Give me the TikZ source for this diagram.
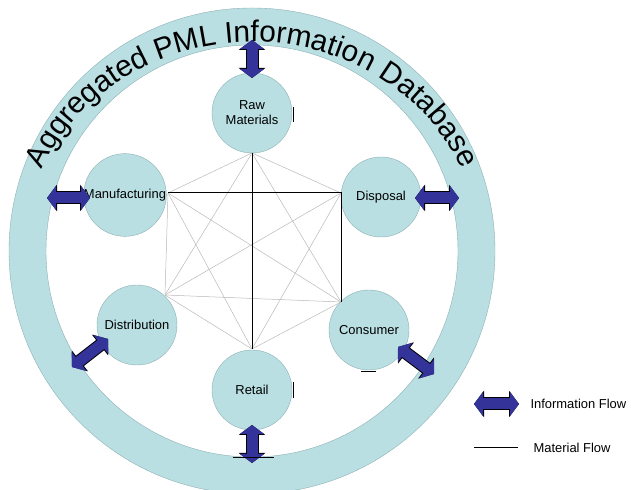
\documentclass[tikz,border=0pt]{standalone}
\usepackage{fontspec}
\setmainfont{Liberation Sans}
\usetikzlibrary{arrows.meta}
\usetikzlibrary{decorations.text}
\definecolor{ringteal}{HTML}{B9DFE3}
\definecolor{ringedge}{HTML}{8DB1B5}
\definecolor{flowblue}{HTML}{333399}

\begin{document}
\begin{tikzpicture}[x=1bp,y=1bp,
  stage/.style={circle, fill=ringteal, draw=ringedge, line width=0.4bp, minimum size=80bp, inner sep=0pt, align=center, font=\fontsize{13}{15}\selectfont},
  infoflow/.style={line width=11bp, draw=flowblue, {Triangle[length=9bp,width=24bp]}-{Triangle[length=9bp,width=24bp]},
    preaction={draw=black, line width=13bp, {Triangle[length=10bp,width=26bp]}-{Triangle[length=10bp,width=26bp]}}},
  matflow/.style={line width=1bp, black},
  linkflow/.style={line width=0.5bp, gray!55}]

\useasboundingbox (0,0) rectangle (631,490);

\fill[ringteal, even odd rule] (252,239) circle[radius=243] (252,239) circle[radius=206];
\draw[ringedge, line width=0.4bp] (252,239) circle[radius=243] (252,239) circle[radius=206];

\path[decorate, decoration={text along path, text align=center,
  text={|\fontsize{30}{30}\selectfont|Aggregated PML Information Database}}]
  (252,239) ++(162:228 and 209) arc[start angle=162, end angle=18, x radius=228, y radius=209];

\coordinate (rawP) at (252,337);
\coordinate (manuP) at (168,297);
\coordinate (dispP) at (341,297);
\coordinate (distP) at (165,195);
\coordinate (consP) at (341,188);
\coordinate (retailP) at (252,141);

\node[stage] (raw) at (252,377) {Raw\\Materials};
\node[stage] (manu) at (125,295) {Manufacturing};
\node[stage] (disp) at (381,293) {Disposal};
\node[stage] (dist) at (137,165) {Distribution};
\node[stage] (cons) at (369,160) {Consumer};
\node[stage] (retail) at (252,100) {Retail};

\foreach \a/\b in {rawP/manuP,rawP/dispP,rawP/distP,rawP/consP,manuP/distP,manuP/retailP,
  manuP/consP,dispP/distP,dispP/retailP,distP/consP,distP/retailP,consP/retailP}{
	\draw[linkflow] (\a)--(\b);
}
\draw[matflow] (rawP)--(retailP);
\draw[matflow] (manuP)--(dispP)--(consP);

\coordinate (rawR) at (252,450);
\coordinate (rawS) at (252,412);
\coordinate (manuR) at (47,292);
\coordinate (manuS) at (90,292);
\coordinate (dispR) at (459,292);
\coordinate (dispS) at (415,292);
\coordinate (distR) at (72,123);
\coordinate (distS) at (108,151);
\coordinate (consR) at (434,116);
\coordinate (consS) at (398,143);
\coordinate (retailR) at (252,27);
\coordinate (retailS) at (252,65);

\foreach \pt in {raw,manu,disp,dist,cons,retail}{
	\draw[infoflow] (\pt R)--(\pt S);
}

\draw[black, line width=0.8bp] (293,383)--(293,368);
\draw[black, line width=0.8bp] (293,108)--(293,92);
\draw[black, line width=0.8bp] (361,119)--(376,119);
\draw[black, line width=0.8bp] (233,33)--(274,33);

\coordinate (infoA) at (474,86);
\coordinate (infoB) at (519,86);
\draw[infoflow] (infoA)--(infoB);
\node[anchor=west, font=\fontsize{13}{15}\selectfont] (infolab) at (527,86) {Information Flow};

\coordinate (matA) at (474,42);
\coordinate (matB) at (518,42);
\draw[matflow] (matA)--(matB);
\node[anchor=west, font=\fontsize{13}{15}\selectfont] (matlab) at (530,42) {Material Flow};

\end{tikzpicture}
\end{document}
